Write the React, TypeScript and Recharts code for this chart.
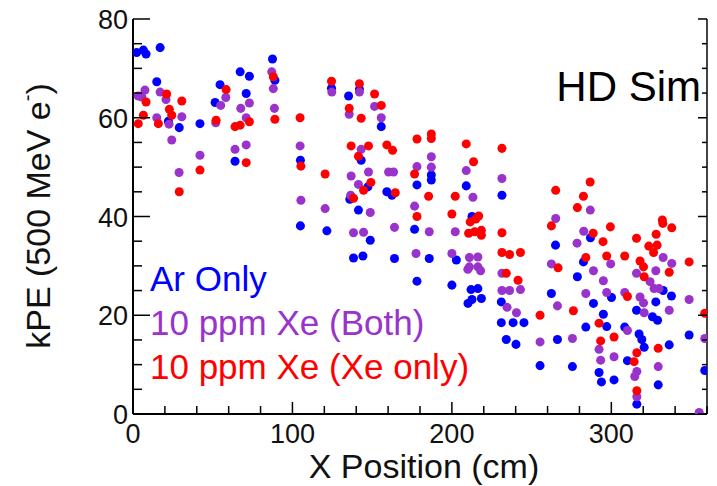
import React from 'react';
import { ScatterChart, Scatter, XAxis, YAxis } from 'recharts';

// kPE vs X position, HD simulation
const arOnly = [
  [2.3, 73.2], [6.5, 73.7], [8.2, 72.9], [17, 74.2], [14.9, 67.3], [22.2, 59.3], [29, 58], [42, 58.8],
  [54.6, 66.7], [51.5, 63.1], [67.2, 69.3], [73, 68.4], [71, 64.9], [64, 51.2], [87.5, 71.9], [89, 67.6],
  [105, 51.4], [124.5, 66], [142, 65.8], [135.2, 64.4], [155.7, 58.2], [143.1, 51.4], [147.3, 46],
  [159.2, 45], [162.4, 44.3], [187.1, 48.4], [187.1, 47.4], [178.1, 46.4], [136, 43.5], [141.4, 41.3],
  [209, 46.2], [212.6, 40], [231.4, 44.3], [105, 38.1], [121.6, 37.1], [148.8, 35.2], [138.3, 31.6],
  [144.2, 32], [164, 31.5], [176.6, 37.4], [185.8, 31.5], [178.1, 26.9], [202.8, 31.2], [200, 26.1],
  [212, 25.2], [216.3, 25.4], [212.6, 23.2], [218.5, 23.4], [210.1, 22.4], [231, 22.7], [231, 18.5],
  [238.4, 18.5], [245.2, 18.5], [234.1, 15.1], [240.2, 14.1], [265, 34.2], [286.9, 35.7], [282.5, 30.8],
  [278.7, 27.8], [332.5, 25], [337.7, 23.9], [262.4, 24.4], [300.1, 23.6], [288.8, 22.4], [327.9, 22.7],
  [315.8, 21], [325.8, 19.7], [329, 19], [295, 20.2], [284, 17.6], [297.1, 17.7], [308.4, 17.6],
  [317.4, 16.2], [319.1, 15.1], [320.6, 13.5], [336.3, 14], [348.8, 16], [358.6, 8.8], [266.2, 15.1],
  [310.1, 10.8], [316, 2], [329.4, 5.9], [255.3, 9.8], [275.6, 9.6], [292.3, 8.4], [293.8, 6.5], [301.7, 6.9],
];

const xeBoth = [
  [3.3, 64.4], [5.6, 64.2], [7.5, 65.6], [17, 65.2], [20.7, 63.7], [14.9, 60], [22.6, 58.7], [24.3, 55.5],
  [30.6, 60.2], [28.9, 48.9], [42, 52.4], [51.9, 59], [55, 62.5], [58.2, 64.1], [67.6, 61.9], [71, 60],
  [73, 63], [64, 53.6], [71, 54.5], [87, 69.3], [88, 65.9], [88.7, 61.9], [104.8, 54.3], [105.3, 43.3],
  [120.5, 41.6], [124.7, 65.2], [142, 65.2], [151.5, 62.3], [155.7, 60], [135.6, 60.7], [143.1, 53.6],
  [136.8, 48.2], [147.7, 49], [141.4, 46.5], [160.3, 49], [163.4, 49], [187.1, 52.1], [187.1, 50],
  [178.1, 50.1], [176.6, 42.1], [136.5, 44.3], [148.8, 40.8], [209, 49.3], [213.2, 43.9], [231.4, 47.7],
  [138.3, 36.7], [144.6, 36.8], [164, 37.8], [185.8, 36.9], [177.5, 32.5], [202.1, 36.9], [200, 32.5],
  [211, 31.7], [216.3, 31.8], [211, 29.8], [216.3, 29.8], [218, 29], [210, 29.3], [231.4, 28.5],
  [231.4, 25], [236.2, 25], [243, 25.2], [234.6, 21.6], [240.5, 20.5], [265.1, 39.6], [286.8, 41.3],
  [282.7, 37], [278.5, 34.6], [262.4, 30.4], [299.6, 30.4], [315.8, 28.5], [327.9, 29], [332.5, 31.7],
  [337.9, 30.5], [288.8, 29], [295, 27], [324.3, 26.8], [326.8, 25.4], [329.9, 25.4], [348.8, 23.2],
  [284, 24.4], [297.1, 24.6], [308.4, 24.6], [318, 23.7], [320.2, 22.5], [320.6, 20.5], [336.3, 21],
  [266.2, 21.9], [310.1, 16.9], [358.6, 15.3], [355.1, 0.3], [255.3, 14.6], [275.6, 15.3], [292.3, 13.1],
  [293.3, 10.9], [301.7, 11.6], [316, 8.6], [314.7, 7.6], [316, 3.5], [329.4, 9.6],
];

const xeOnly = [
  [3.3, 58.8], [6.5, 60.5], [8.2, 63.2], [15.9, 58.8], [21.1, 64.8], [22.8, 61.7], [24.3, 60.5], [30.6, 63.4],
  [29, 45], [42, 49.4], [52.1, 59.5], [58.4, 65.7], [64, 58.2], [67.2, 58.5], [73, 59.2], [71, 50.9],
  [88, 68.3], [89, 59.7], [104.8, 60], [105.3, 50.2], [120.5, 48.6], [124.5, 67.4], [142, 66.9],
  [151.5, 64.8], [155.7, 62.5], [135.6, 61.9], [143.1, 59.9], [136.8, 54.3], [147.7, 54.3], [141.4, 52.2],
  [144.6, 45.3], [149.2, 46.9], [159.2, 54.5], [162.8, 53.4], [164.5, 44.8], [178.1, 55.7], [187.1, 56.7],
  [187.1, 55.8], [176.6, 48.6], [185.4, 44.1], [178.1, 40], [138.3, 43.7], [202.1, 44.1], [200, 40.5],
  [209, 54.7], [213.6, 51.1], [216.8, 40.1], [231.4, 53.8], [210.5, 36.6], [214.3, 36.9], [218.5, 37.2],
  [218.5, 36.2], [211.5, 38.9], [215, 39.5], [231.4, 36.7], [231.4, 32.7], [236.2, 32.3], [243, 32.7],
  [234.1, 28.5], [241.5, 27.1], [265.1, 45.3], [286.7, 47], [282.5, 44.1], [278.7, 41.8], [332, 39.3],
  [262.4, 38.1], [288.6, 36.6], [294.8, 34.9], [299.4, 37.9], [315.8, 35.6], [323.5, 34], [328.1, 36.4],
  [332.3, 38.6], [337.9, 37.7], [328.7, 34.2], [326.5, 32.7], [266.6, 29.6], [284, 31.7], [297.1, 32],
  [308.4, 32], [318, 31], [320.2, 29.8], [320.6, 27.8], [336.3, 28.7], [348.8, 30.8], [310.1, 23.8],
  [358.6, 20.4], [276.2, 20.9], [255.3, 20], [292.3, 18.4], [329.4, 13.3], [301.7, 15.6], [293.3, 14.8],
  [316, 12.4], [314.3, 10.6], [316, 4.7],
];

const seriesNames = ['Ar Only', '10 ppm Xe (Both)', '10 ppm Xe (Xe only)'];
const seriesColors = ['#0000ff', '#9933cc', '#ff0000'];

const xTicks = [0, 20, 40, 60, 80, 100, 120, 140, 160, 180, 200, 220, 240, 260, 280, 300, 320, 340, 360];
const yTicks = [0, 5, 10, 15, 20, 25, 30, 35, 40, 45, 50, 55, 60, 65, 70, 75, 80];

const toPoints = (arr: number[][]) => arr.map(([x, y]) => ({ x, y }));

const FONT = '"Liberation Sans", Arial, sans-serif';

const BottomTick = (p: any) => {
  const major = p.payload.value % 100 === 0;
  return (
    <g>
      <line x1={p.x} x2={p.x} y1={p.y} y2={p.y - (major ? 12 : 8)} stroke="#000" strokeWidth={1.5} />
      {major && (
        <text x={p.x} y={p.y + 29} textAnchor="middle" fontSize={27} fontFamily={FONT} fill="#111">
          {p.payload.value}
        </text>
      )}
    </g>
  );
};

const TopTick = (p: any) => {
  const major = p.payload.value % 100 === 0;
  return <line x1={p.x} x2={p.x} y1={p.y} y2={p.y + (major ? 14 : 7)} stroke="#000" strokeWidth={1.5} />;
};

const LeftTick = (p: any) => {
  const major = p.payload.value % 20 === 0;
  return (
    <g>
      <line x1={p.x} x2={p.x + (major ? 17 : 9)} y1={p.y} y2={p.y} stroke="#000" strokeWidth={1.5} />
      {major && (
        <text x={p.x - 5} y={p.y + 10} textAnchor="end" fontSize={27} fontFamily={FONT} fill="#111">
          {p.payload.value}
        </text>
      )}
    </g>
  );
};

const RightTick = (p: any) => {
  const major = p.payload.value % 20 === 0;
  return <line x1={p.x} x2={p.x - (major ? 9 : 5)} y1={p.y} y2={p.y} stroke="#000" strokeWidth={1.5} />;
};

export default function App() {
  const series = [arOnly, xeBoth, xeOnly];
  return (
    <div style={{ position: 'absolute', left: 0, top: 0, width: 717, height: 486, background: '#fff' }}>
      <ScatterChart width={717} height={486} margin={{ top: 19, right: 0, bottom: 0, left: 0 }}>
        <XAxis
          type="number"
          dataKey="x"
          xAxisId="b"
          domain={[0, 360]}
          allowDataOverflow
          ticks={xTicks}
          interval={0}
          height={72}
          tickSize={0}
          tickMargin={0}
          tick={<BottomTick />}
          axisLine={{ stroke: '#000', strokeWidth: 2 }}
        />
        <XAxis
          type="number"
          xAxisId="t"
          orientation="top"
          domain={[0, 360]}
          allowDataOverflow
          ticks={xTicks}
          interval={0}
          height={0}
          tickSize={0}
          tickMargin={0}
          tick={<TopTick />}
          axisLine={{ stroke: '#444', strokeWidth: 2 }}
        />
        <YAxis
          type="number"
          dataKey="y"
          yAxisId="l"
          domain={[0, 80]}
          allowDataOverflow
          ticks={yTicks}
          interval={0}
          width={133}
          tickSize={0}
          tickMargin={0}
          tick={<LeftTick />}
          axisLine={{ stroke: '#000', strokeWidth: 2 }}
        />
        <YAxis
          type="number"
          yAxisId="r"
          orientation="right"
          domain={[0, 80]}
          allowDataOverflow
          ticks={yTicks}
          interval={0}
          width={10}
          tickSize={0}
          tickMargin={0}
          tick={<RightTick />}
          axisLine={{ stroke: '#444', strokeWidth: 2 }}
        />
        {series.map((s, i) => (
          <Scatter
            key={seriesNames[i]}
            name={seriesNames[i]}
            data={toPoints(s)}
            xAxisId="b"
            yAxisId="l"
            fill={seriesColors[i]}
            isAnimationActive={false}
          />
        ))}
      </ScatterChart>
      <svg
        width={717}
        height={486}
        style={{ position: 'absolute', left: 0, top: 0, pointerEvents: 'none' }}
        fontFamily={FONT}
      >
        {seriesNames.map((n, i) => (
          <text key={n} x={150} y={291 + i * 44} fontSize={35} fill={seriesColors[i]}>
            {n}
          </text>
        ))}
        <text x={701} y={101} textAnchor="end" fontSize={42} fill="#000">
          HD Sim
        </text>
        <text x={424} y={478} textAnchor="middle" fontSize={34} fill="#111">
          X Position (cm)
        </text>
        <text transform="translate(50,216) rotate(-90)" textAnchor="middle" fontSize={34} fill="#111">
          kPE (500 MeV e
          <tspan fontSize={20} dy={-16}>-</tspan>
          <tspan dy={16}>)</tspan>
        </text>
      </svg>
    </div>
  );
}
